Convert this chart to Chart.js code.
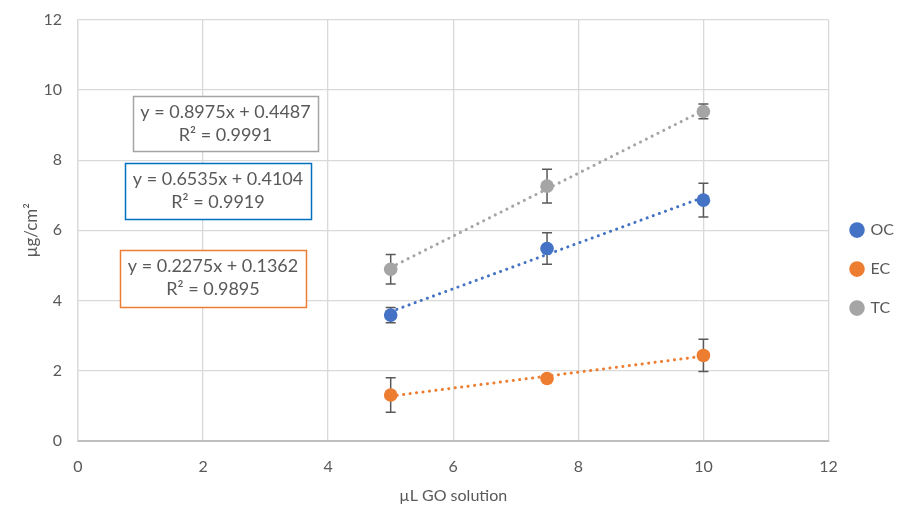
<!DOCTYPE html>
<html>
<head>
<meta charset="utf-8">
<script src="https://cdn.jsdelivr.net/npm/chart.js@4.4.1/dist/chart.umd.min.js"></script>
<style>
    html, body { margin: 0; padding: 0; background: #fff; }
    #wrap { width: 919px; height: 508px; }
</style>
</head>
<body>
<div id="wrap"><canvas id="chart"></canvas></div>
<script>
// Data
const xValues = [5, 7.5, 10];
const ocValues = [3.58, 5.48, 6.86];
const ecValues = [1.30, 1.77, 2.43];
const tcValues = [4.89, 7.26, 9.39];
const ocErrors = [0.22, 0.45, 0.48];
const ecErrors = [0.49, 0, 0.46];
const tcErrors = [0.42, 0.48, 0.21];

// trendline end points (x = 5 and x = 10)
const trendX = [5, 10];
const ocTrend = [3.68, 6.94];
const ecTrend = [1.27, 2.41];
const tcTrend = [4.94, 9.42];

const equationTC = ['y = 0.8975x + 0.4487', 'R² = 0.9991'];
const equationOC = ['y = 0.6535x + 0.4104', 'R² = 0.9919'];
const equationEC = ['y = 0.2275x + 0.1362', 'R² = 0.9895'];

const xTicks = [0, 2, 4, 6, 8, 10, 12];
const yTicks = [0, 2, 4, 6, 8, 10, 12];

const colors = { oc: '#4472C4', ec: '#ED7D31', tc: '#A5A5A5' };
const textColor = '#595959';
const fontFamily = 'Lato, "Open Sans", sans-serif';

const toPoints = (xs, ys) => xs.map((x, i) => ({ x, y: ys[i] }));

const pointSet = (label, ys, errs, color) => ({
    label,
    data: toPoints(xValues, ys),
    errors: errs,
    showLine: false,
    backgroundColor: color,
    borderColor: color,
    pointRadius: 6.8,
    pointHoverRadius: 6.8,
    pointBorderWidth: 0,
    order: 1
});

const trendSet = (ys, color) => ({
    label: 'trend',
    data: toPoints(trendX, ys),
    showLine: true,
    borderColor: color,
    borderWidth: 3,
    borderDash: [0.1, 6.4],
    borderCapStyle: 'round',
    pointRadius: 0,
    fill: false,
    order: 2
});

// error bars, drawn below the markers
const errorBars = {
    id: 'errorBars',
    beforeDatasetsDraw(chart) {
        const { ctx, scales: { x, y } } = chart;
        ctx.save();
        ctx.strokeStyle = '#595959';
        ctx.lineWidth = 1.5;
        chart.data.datasets.forEach((ds) => {
            if (!ds.errors) return;
            ds.data.forEach((p, i) => {
                const e = ds.errors[i];
                if (!e) return;
                const px = x.getPixelForValue(p.x);
                const top = y.getPixelForValue(p.y + e);
                const bot = y.getPixelForValue(p.y - e);
                ctx.beginPath();
                ctx.moveTo(px, top); ctx.lineTo(px, bot);
                ctx.moveTo(px - 5, top); ctx.lineTo(px + 5, top);
                ctx.moveTo(px - 5, bot); ctx.lineTo(px + 5, bot);
                ctx.stroke();
            });
        });
        ctx.restore();
    }
};

// equation boxes
const equationBoxes = {
    id: 'equationBoxes',
    afterDraw(chart) {
        const { ctx } = chart;
        const boxes = [
            { lines: equationTC, color: '#A5A5A5', left: 133, top: 96, w: 185, h: 55 },
            { lines: equationOC, color: '#0070C0', left: 125, top: 163, w: 186, h: 56 },
            { lines: equationEC, color: '#ED7D31', left: 120, top: 250, w: 186, h: 57 }
        ];
        ctx.save();
        ctx.font = '18px ' + fontFamily;
        ctx.textAlign = 'center';
        ctx.textBaseline = 'middle';
        boxes.forEach((b) => {
            ctx.fillStyle = '#fff';
            ctx.fillRect(b.left, b.top, b.w, b.h);
            ctx.strokeStyle = b.color;
            ctx.lineWidth = 1.5;
            ctx.strokeRect(b.left + 0.5, b.top + 0.5, b.w, b.h);
            ctx.fillStyle = textColor;
            const cx = b.left + b.w / 2;
            ctx.fillText(b.lines[0], cx, b.top + 16);
            ctx.fillText(b.lines[1], cx, b.top + 39);
        });
        ctx.restore();
    }
};

new Chart(document.getElementById('chart'), {
    type: 'scatter',
    data: {
        datasets: [
            pointSet('OC', ocValues, ocErrors, colors.oc),
            pointSet('EC', ecValues, ecErrors, colors.ec),
            pointSet('TC', tcValues, tcErrors, colors.tc),
            trendSet(ocTrend, colors.oc),
            trendSet(ecTrend, colors.ec),
            trendSet(tcTrend, colors.tc)
        ]
    },
    options: {
        responsive: true,
        maintainAspectRatio: false,
        animation: false,
        layout: { padding: { left: 0, top: 0, right: 15, bottom: 0 } },
        plugins: {
            tooltip: { enabled: false },
            legend: {
                position: 'right',
                align: 'center',
                // empty title only pushes the items down a little
                title: {
                    display: true,
                    text: ' ',
                    font: { family: fontFamily, size: 16 },
                    padding: { top: 0, bottom: 11 }
                },
                labels: {
                    usePointStyle: true,
                    pointStyle: 'circle',
                    boxWidth: 11,
                    boxHeight: 11,
                    padding: 23,
                    color: textColor,
                    font: { family: fontFamily, size: 16 },
                    filter: (item) => item.text !== 'trend'
                }
            }
        },
        scales: {
            x: {
                type: 'linear',
                min: 0,
                max: 12,
                afterBuildTicks: (axis) => { axis.ticks = xTicks.map((v) => ({ value: v })); },
                grid: { color: '#D9D9D9', lineWidth: 1.3, drawTicks: false },
                border: { color: '#BFBFBF', width: 2 },
                ticks: { color: textColor, padding: 17, font: { family: fontFamily, size: 16 } },
                title: {
                    display: true,
                    text: 'µL GO solution',
                    color: textColor,
                    font: { family: fontFamily, size: 16 },
                    padding: { top: -8, bottom: 3 }
                }
            },
            y: {
                type: 'linear',
                min: 0,
                max: 12,
                afterBuildTicks: (axis) => { axis.ticks = yTicks.map((v) => ({ value: v })); },
                afterFit: (axis) => { axis.paddingTop = 20; },
                grid: { color: '#D9D9D9', lineWidth: 1.3, drawTicks: false },
                border: { color: '#D9D9D9', width: 1.3 },
                ticks: { color: textColor, padding: 16, font: { family: fontFamily, size: 16 } },
                title: {
                    display: true,
                    text: 'µg/cm²',
                    color: textColor,
                    font: { family: fontFamily, size: 17 },
                    padding: { top: 21, bottom: -14 }
                }
            }
        }
    },
    plugins: [errorBars, equationBoxes]
});
</script>
</body>
</html>
